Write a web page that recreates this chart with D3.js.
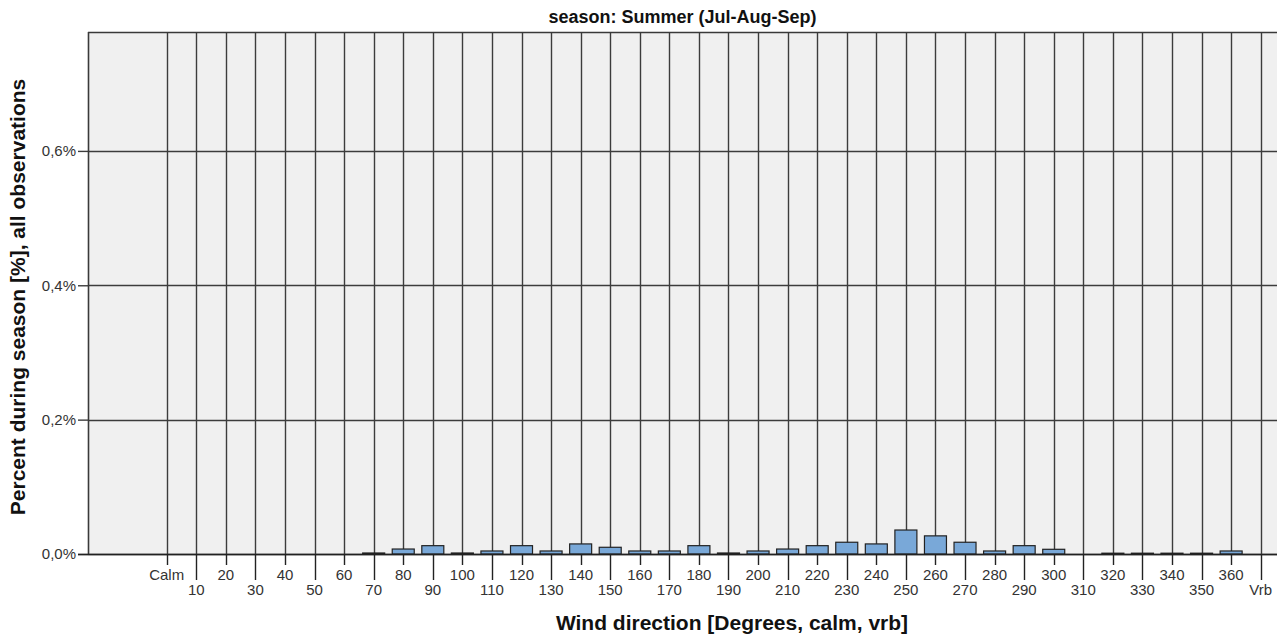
<!DOCTYPE html>
<html>
<head>
<meta charset="utf-8">
<script src="https://cdn.jsdelivr.net/npm/d3@7"></script>
<style>
  html, body { margin: 0; padding: 0; background: #ffffff; }
  svg { display: block; font-family: "Liberation Sans", Arial, sans-serif; }
</style>
</head>
<body>
<svg id="chart" width="1287" height="639"></svg>
<script>
// ---- data ----
const categories = ["Calm","10","20","30","40","50","60","70","80","90","100","110","120","130","140","150","160","170","180","190","200","210","220","230","240","250","260","270","280","290","300","310","320","330","340","350","360","Vrb"];
const values = [0,0,0,0,0,0,0,0.0015,0.0074,0.0124,0.0015,0.0045,0.0124,0.0045,0.015,0.01,0.0045,0.0045,0.0124,0.0015,0.0045,0.0074,0.0124,0.0175,0.015,0.0357,0.027,0.0175,0.0045,0.0124,0.007,0,0.0012,0.0012,0.0012,0.0012,0.0045,0];
const yTicks = [0, 0.2, 0.4, 0.6];
const title = "season: Summer (Jul-Aug-Sep)";
const xTitle = "Wind direction [Degrees, calm, vrb]";
const yTitle = "Percent during season [%], all observations";

// ---- layout ----
const plot = { left: 88, right: 1277, top: 32, bottom: 554 };
const svg = d3.select("#chart");

const x = d3.scalePoint().domain(categories).range([166.7, 1260.7]);
const y = d3.scaleLinear().domain([0, 0.777]).range([plot.bottom, plot.top]);
const barW = 22;
const gridColor = "#3c3c3c";
const gridW = 1.4;

// background
svg.append("rect")
  .attr("x", plot.left).attr("y", plot.top)
  .attr("width", plot.right - plot.left).attr("height", plot.bottom - plot.top)
  .attr("fill", "#f0f0f0");

// horizontal grid + y ticks
const yAxis = d3.axisLeft(y).tickValues(yTicks).tickSize(10).tickPadding(2)
  .tickFormat(d => d3.format(".1f")(d).replace(".", ",") + "%");
const gy = svg.append("g").attr("transform", `translate(${plot.left},0)`).call(yAxis);
gy.select(".domain").remove();
gy.selectAll(".tick line").attr("stroke", gridColor).attr("stroke-width", gridW);
gy.selectAll(".tick text").attr("font-size", 15).attr("fill", "#333").attr("font-family", "Liberation Sans, Arial, sans-serif");
svg.append("g").selectAll("line").data(yTicks).join("line")
  .attr("x1", plot.left).attr("x2", plot.right)
  .attr("y1", d => Math.round(y(d)) + 0.5).attr("y2", d => Math.round(y(d)) + 0.5)
  .attr("stroke", gridColor).attr("stroke-width", gridW);

// vertical grid lines
svg.append("g").selectAll("line").data(categories).join("line")
  .attr("x1", d => Math.round(x(d)) + 0.5).attr("x2", d => Math.round(x(d)) + 0.5)
  .attr("y1", plot.top).attr("y2", plot.bottom)
  .attr("stroke", gridColor).attr("stroke-width", gridW);

// top & left border
svg.append("line").attr("x1", plot.left).attr("x2", plot.right)
  .attr("y1", plot.top + 0.5).attr("y2", plot.top + 0.5).attr("stroke", "#3a3a3a").attr("stroke-width", 1.6);
svg.append("line").attr("x1", plot.left + 0.5).attr("x2", plot.left + 0.5)
  .attr("y1", plot.top).attr("y2", plot.bottom).attr("stroke", "#3a3a3a").attr("stroke-width", 1.6);

// bars
svg.append("g").selectAll("rect").data(categories.map((c, i) => ({ c, v: values[i] })).filter(d => d.v > 0)).join("rect")
  .attr("x", d => x(d.c) - barW / 2)
  .attr("y", d => y(d.v))
  .attr("width", barW)
  .attr("height", d => plot.bottom - y(d.v))
  .attr("fill", "#79a8d8")
  .attr("stroke", "#222").attr("stroke-width", 1.2);

// x axis line
svg.append("line").attr("x1", 78).attr("x2", plot.right)
  .attr("y1", plot.bottom + 0.5).attr("y2", plot.bottom + 0.5)
  .attr("stroke", "#222").attr("stroke-width", 1.6);

// x ticks (staggered)
const gx = svg.append("g");
gx.selectAll("line").data(categories).join("line")
  .attr("x1", d => Math.round(x(d)) + 0.5).attr("x2", d => Math.round(x(d)) + 0.5)
  .attr("y1", plot.bottom).attr("y2", (d, i) => i % 2 === 0 ? plot.bottom + 11 : plot.bottom + 26)
  .attr("stroke", "#222").attr("stroke-width", gridW);
gx.selectAll("text").data(categories).join("text")
  .attr("x", d => x(d))
  .attr("y", (d, i) => i % 2 === 0 ? plot.bottom + 26 : plot.bottom + 41)
  .attr("text-anchor", "middle")
  .attr("font-size", 15).attr("fill", "#333")
  .text(d => d);

// titles
svg.append("text").attr("x", (plot.left + plot.right) / 2).attr("y", 23).attr("text-anchor", "middle")
  .attr("font-size", 18).attr("font-weight", "bold").attr("fill", "#111").text(title);
svg.append("text").attr("x", 732).attr("y", 630).attr("text-anchor", "middle")
  .attr("font-size", 21).attr("font-weight", "bold").attr("fill", "#111").text(xTitle);
svg.append("text").attr("transform", "translate(25,297) rotate(-90)").attr("text-anchor", "middle")
  .attr("font-size", 21).attr("font-weight", "bold").attr("fill", "#111").text(yTitle);
</script>
</body>
</html>
